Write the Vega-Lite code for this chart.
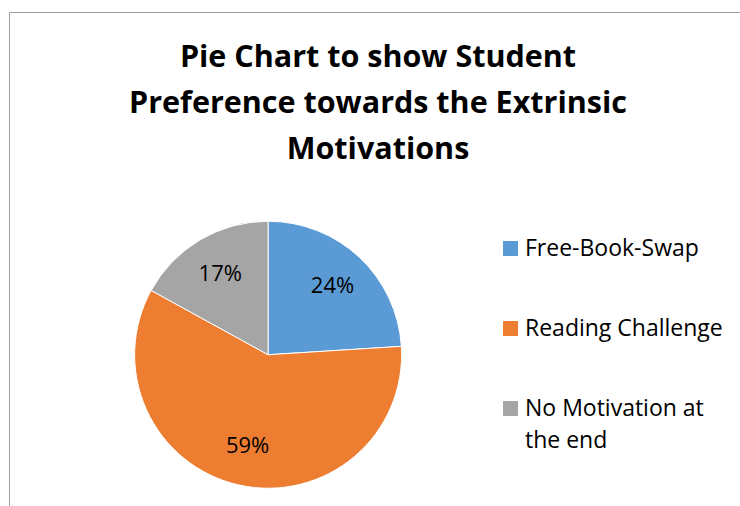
{
  "$schema": "https://vega.github.io/schema/vega-lite/v6.json",
  "width": 732,
  "height": 496,
  "autosize": "none",
  "padding": {"left": 9, "top": 12, "right": 0, "bottom": 0},
  "background": "white",
  "title": {
    "text": ["Pie Chart to show Student", "Preference towards the Extrinsic", "Motivations"],
    "font": "Open Sans",
    "fontSize": 30.5,
    "fontWeight": "bold",
    "color": "#000000",
    "lineHeight": 46,
    "anchor": "middle",
    "frame": "group",
    "offset": -153,
    "dx": 3
  },
  "data": {
    "values": [
      {"category": "Free-Book-Swap", "share": 0.24, "idx": 1},
      {"category": "Reading Challenge", "share": 0.59, "idx": 2},
      {"category": "No Motivation at the end", "share": 0.17, "idx": 3}
    ]
  },
  "encoding": {
    "theta": {"field": "share", "type": "quantitative", "stack": true},
    "order": {"field": "idx", "type": "quantitative"},
    "x": {"datum": 0.354, "type": "quantitative", "scale": {"domain": [0, 1]}, "axis": null},
    "y": {"datum": 0.691, "type": "quantitative", "scale": {"domain": [0, 1], "reverse": true}, "axis": null}
  },
  "layer": [
    {
      "mark": {"type": "arc", "outerRadius": 133.5, "stroke": "white", "strokeWidth": 1},
      "encoding": {
        "color": {
          "field": "category",
          "type": "nominal",
          "scale": {
            "domain": ["Free-Book-Swap", "Reading Challenge", "No Motivation at the end"],
            "range": ["#5B9BD5", "#ED7D31", "#A5A5A5"]
          },
          "legend": {
            "title": null,
            "orient": "none",
            "legendX": 490,
            "legendY": 225,
            "padding": 0,
            "symbolType": "square",
            "symbolSize": 225,
            "symbolStrokeWidth": 0,
            "labelFont": "Open Sans",
            "labelFontSize": 23,
            "labelColor": "#000000",
            "labelOffset": 3,
            "labelLimit": 300,
            "labelBaseline": "middle",
            "rowPadding": 56,
            "labelExpr": "datum.label == 'No Motivation at the end' ? ['No Motivation at', 'the end'] : datum.label"
          }
        }
      }
    },
    {
      "mark": {"type": "text", "radius": 94, "font": "Open Sans", "fontSize": 22, "fill": "#000000"},
      "encoding": {
        "text": {"field": "share", "type": "quantitative", "format": ".0%"}
      }
    }
  ],
  "config": {
    "view": {"stroke": "#a0a0a0", "strokeWidth": 1},
    "style": {"guide-label": {"lineHeight": 32}}
  }
}
